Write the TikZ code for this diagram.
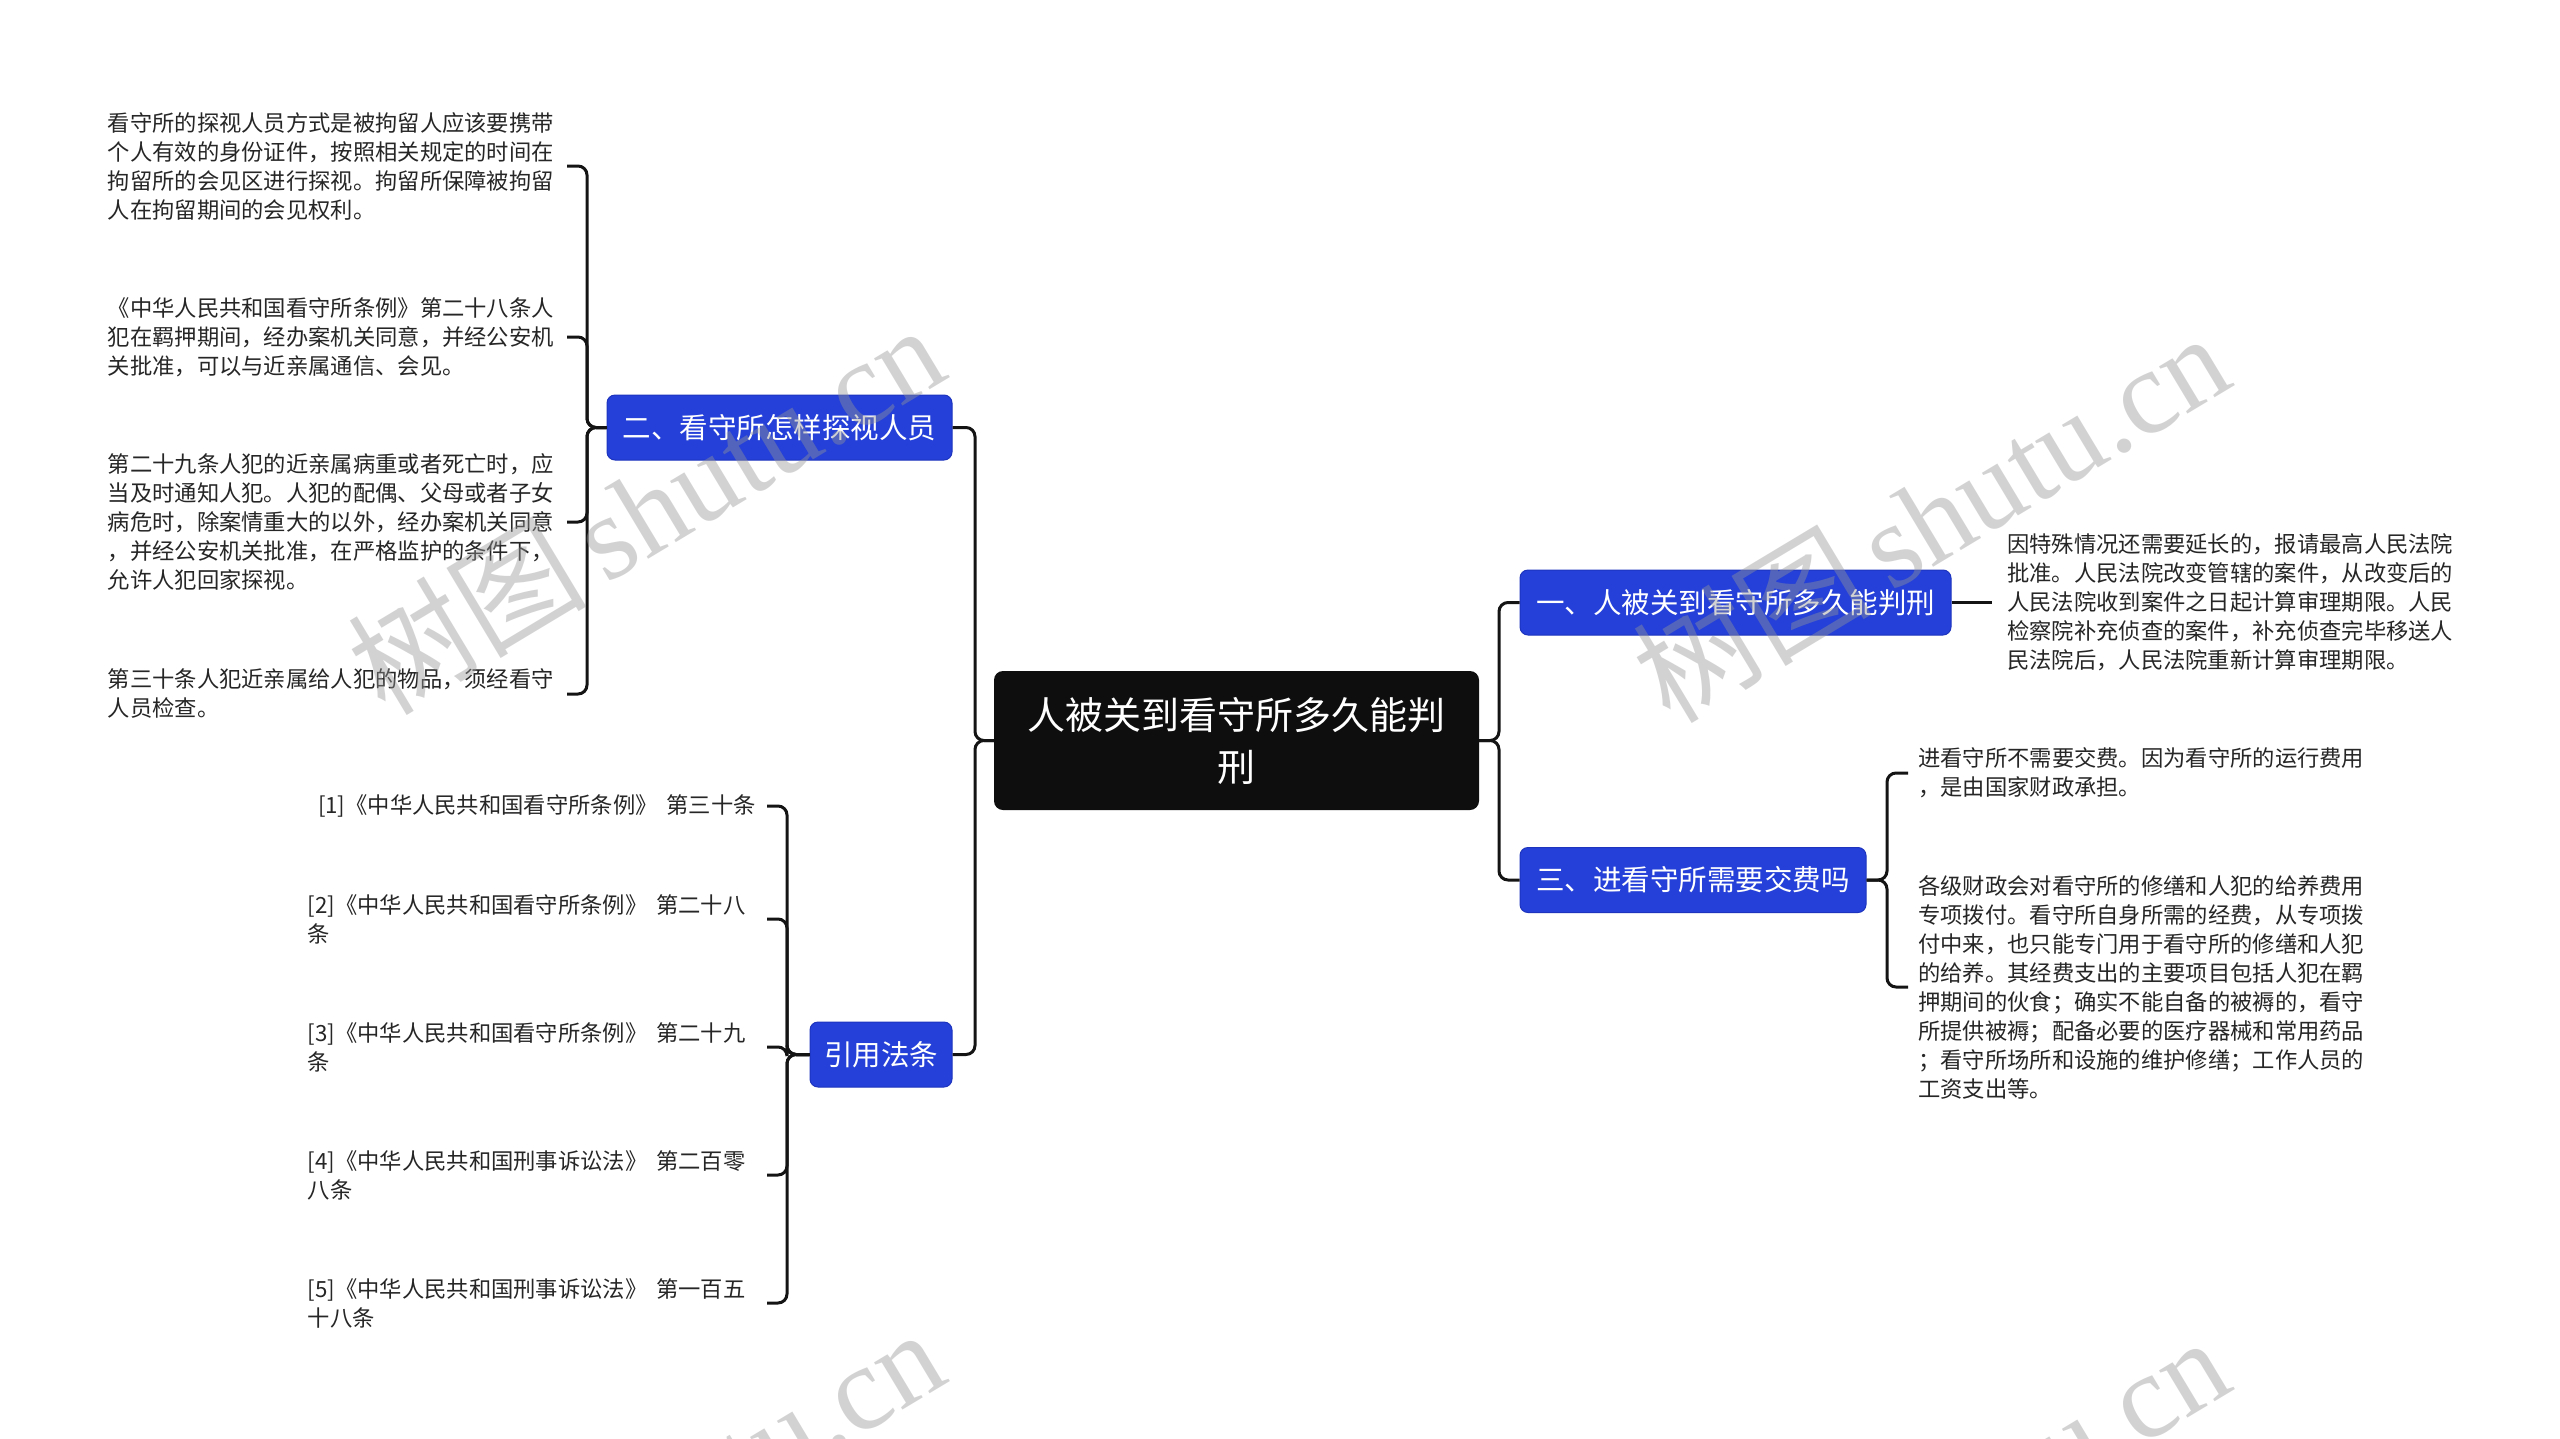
\documentclass[tikz,border=0pt]{standalone}
\usepackage{fontspec}
\setmainfont{Noto Sans CJK SC}
\newfontfamily\wmlatin{Liberation Serif}
\definecolor{bluebox}{RGB}{36,64,216}
\definecolor{blueline}{RGB}{30,52,190}
\definecolor{centralc}{RGB}{14,14,14}
\definecolor{linec}{RGB}{20,20,20}
\definecolor{textc}{RGB}{38,38,38}
\definecolor{wmc}{RGB}{150,150,150}
\tikzset{
  central/.style={fill=centralc, text=white, rounded corners=9pt, align=center,
    font=\fontsize{38}{52}\selectfont, minimum width=485pt, minimum height=139pt, inner sep=0pt},
  topic/.style={fill=bluebox, draw=blueline, line width=1pt, text=white, rounded corners=8pt,
    font=\fontsize{28.5}{34}\selectfont, minimum height=65pt, inner sep=0pt},
  leaf/.style={text=textc, align=left, font=\fontsize{22.3}{29}\selectfont, inner ysep=0pt},
  conn/.style={draw=linec, line width=3pt, rounded corners=9pt},
  wm/.style={text=wmc, opacity=0.42, rotate=31, font=\fontsize{120}{120}\selectfont, inner sep=0pt},
}
\begin{document}
\begin{tikzpicture}[x=1pt,y=-1pt]
\useasboundingbox[fill=white] (0,0) rectangle (2560,1438);

% junction coordinates
\coordinate (cl) at (975,0);
\coordinate (cr) at (1499,0);
\coordinate (bl) at (587,0);
\coordinate (rl) at (787,0);
\coordinate (br) at (1887,0);

% main nodes
\node[central] (c) at (1236.5,740.5) {人被关到看守所多久能判\\刑};
\node[topic, minimum width=345pt] (t2) at (779.5,427.5) {二、看守所怎样探视人员};
\node[topic, minimum width=142pt] (ref) at (881,1054.5) {引用法条};
\node[topic, minimum width=431pt] (t1) at (1735.5,602.5) {一、人被关到看守所多久能判刑};
\node[topic, minimum width=346pt] (t3) at (1693,880) {三、进看守所需要交费吗};

% left leaves
\node[leaf, anchor=east, inner xsep=13pt] (l1) at (567,166) {看守所的探视人员方式是被拘留人应该要携带\\个人有效的身份证件，按照相关规定的时间在\\拘留所的会见区进行探视。拘留所保障被拘留\\人在拘留期间的会见权利。};
\node[leaf, anchor=east, inner xsep=13pt] (l2) at (567,337) {《中华人民共和国看守所条例》第二十八条人\\犯在羁押期间，经办案机关同意，并经公安机\\关批准，可以与近亲属通信、会见。};
\node[leaf, anchor=east, inner xsep=13pt] (l3) at (567,522) {第二十九条人犯的近亲属病重或者死亡时，应\\当及时通知人犯。人犯的配偶、父母或者子女\\病危时，除案情重大的以外，经办案机关同意\\，并经公安机关批准，在严格监护的条件下，\\允许人犯回家探视。};
\node[leaf, anchor=east, inner xsep=13pt] (l4) at (567,694) {第三十条人犯近亲属给人犯的物品，须经看守\\人员检查。};

% reference leaves
\node[leaf, anchor=east, inner xsep=11pt] (f1) at (767,806) {[1]《中华人民共和国看守所条例》\hspace{0.4em}第三十条};
\node[leaf, anchor=east, inner xsep=11pt, text width=448pt] (f2) at (767,919) {[2]《中华人民共和国看守所条例》\hspace{0.4em}第二十八\\条};
\node[leaf, anchor=east, inner xsep=11pt, text width=448pt] (f3) at (767,1047) {[3]《中华人民共和国看守所条例》\hspace{0.4em}第二十九\\条};
\node[leaf, anchor=east, inner xsep=11pt, text width=448pt] (f4) at (767,1175) {[4]《中华人民共和国刑事诉讼法》\hspace{0.4em}第二百零\\八条};
\node[leaf, anchor=east, inner xsep=11pt, text width=448pt] (f5) at (767,1303) {[5]《中华人民共和国刑事诉讼法》\hspace{0.4em}第一百五\\十八条};

% right leaves
\node[leaf, anchor=west, inner xsep=15pt] (r1) at (1992,602.5) {因特殊情况还需要延长的，报请最高人民法院\\批准。人民法院改变管辖的案件，从改变后的\\人民法院收到案件之日起计算审理期限。人民\\检察院补充侦查的案件，补充侦查完毕移送人\\民法院后，人民法院重新计算审理期限。};
\node[leaf, anchor=west, inner xsep=10pt] (r2) at (1908,773) {进看守所不需要交费。因为看守所的运行费用\\，是由国家财政承担。};
\node[leaf, anchor=west, inner xsep=10pt] (r3) at (1908,987) {各级财政会对看守所的修缮和人犯的给养费用\\专项拨付。看守所自身所需的经费，从专项拨\\付中来，也只能专门用于看守所的修缮和人犯\\的给养。其经费支出的主要项目包括人犯在羁\\押期间的伙食；确实不能自备的被褥的，看守\\所提供被褥；配备必要的医疗器械和常用药品\\；看守所场所和设施的维护修缮；工作人员的\\工资支出等。};

% connectors: central
\draw[conn] (c.west) -- (c.west -| cl) |- (t2.east);
\draw[conn] (c.west) -- (c.west -| cl) |- (ref.east);
\draw[conn] (c.east) -- (c.east -| cr) |- (t1.west);
\draw[conn] (c.east) -- (c.east -| cr) |- (t3.west);

% connectors: 二
\foreach \n in {l1,l2,l3,l4}
  \draw[conn] (t2.west) -- (t2.west -| bl) |- (\n.east);
% connectors: 引用法条
\foreach \n in {f1,f2,f3,f4,f5}
  \draw[conn] (ref.west) -- (ref.west -| rl) |- (\n.east);
% connectors: 一
\draw[conn] (t1.east) -- (r1.west);
% connectors: 三
\foreach \n in {r2,r3}
  \draw[conn] (t3.east) -- (t3.east -| br) |- (\n.west);

% watermarks
\begin{scope}
\clip (0,0) rectangle (2560,1438);
\node[wm] (wm1) at (645,508) {树图\hspace{0.15em}{\wmlatin shutu.cn}};
\node[wm] (wm2) at (1930,516) {树图\hspace{0.15em}{\wmlatin shutu.cn}};
\node[wm] (wm3) at (645,1512) {树图\hspace{0.15em}{\wmlatin shutu.cn}};
\node[wm] (wm4) at (1930,1520) {树图\hspace{0.15em}{\wmlatin shutu.cn}};
\end{scope}
\end{tikzpicture}
\end{document}
